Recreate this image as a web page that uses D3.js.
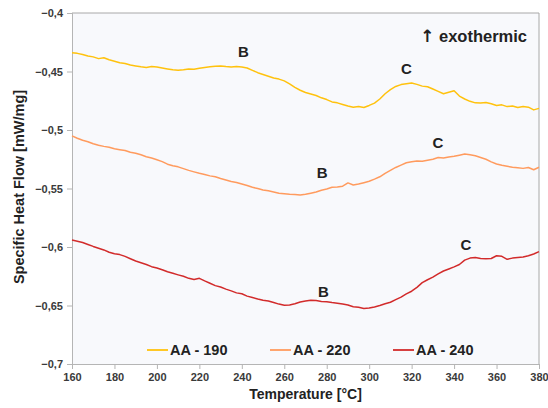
<!DOCTYPE html>
<html>
<head>
<meta charset="utf-8">
<script src="https://cdn.jsdelivr.net/npm/d3@7"></script>
<style>
  html, body { margin: 0; padding: 0; background: #ffffff; }
  svg { display: block; font-family: "Liberation Sans", Arial, sans-serif; }
</style>
</head>
<body>
<svg id="chart" width="548" height="408"></svg>
<script>
// DSC heat-flow curves, sampled every 2.5 °C from 160 to 380 °C
const temperatures = d3.range(160, 380.001, 2.5);

const aa190 = [
  -0.4340, -0.4345, -0.4355, -0.4368, -0.4375, -0.4390, -0.4382, -0.4400, -0.4412, -0.4425,
  -0.4432, -0.4445, -0.4452, -0.4460, -0.4465, -0.4458, -0.4462, -0.4470, -0.4478, -0.4485,
  -0.4490, -0.4486, -0.4478, -0.4480, -0.4472, -0.4465, -0.4460, -0.4455, -0.4452, -0.4458,
  -0.4462, -0.4458, -0.4462, -0.4470, -0.4490, -0.4510, -0.4525, -0.4540, -0.4555, -0.4565,
  -0.4580, -0.4605, -0.4635, -0.4660, -0.4680, -0.4692, -0.4705, -0.4725, -0.4740, -0.4760,
  -0.4768, -0.4782, -0.4795, -0.4805, -0.4800, -0.4808, -0.4790, -0.4770, -0.4735, -0.4690,
  -0.4655, -0.4628, -0.4612, -0.4605, -0.4598, -0.4610, -0.4625, -0.4630, -0.4650, -0.4670,
  -0.4690, -0.4678, -0.4665, -0.4710, -0.4735, -0.4755, -0.4768, -0.4770, -0.4765, -0.4775,
  -0.4790, -0.4785, -0.4800, -0.4795, -0.4808, -0.4800, -0.4805, -0.4828, -0.4815
];

const aa220 = [
  -0.5050, -0.5070, -0.5088, -0.5100, -0.5118, -0.5130, -0.5140, -0.5148, -0.5160, -0.5168,
  -0.5175, -0.5190, -0.5198, -0.5212, -0.5228, -0.5240, -0.5255, -0.5270, -0.5292, -0.5305,
  -0.5315, -0.5330, -0.5345, -0.5358, -0.5370, -0.5380, -0.5392, -0.5400, -0.5415, -0.5428,
  -0.5440, -0.5448, -0.5462, -0.5475, -0.5490, -0.5500, -0.5512, -0.5520, -0.5530, -0.5540,
  -0.5545, -0.5550, -0.5552, -0.5556, -0.5550, -0.5540, -0.5530, -0.5515, -0.5505, -0.5490,
  -0.5488, -0.5480, -0.5452, -0.5470, -0.5462, -0.5450, -0.5438, -0.5420, -0.5400, -0.5370,
  -0.5345, -0.5320, -0.5300, -0.5280, -0.5272, -0.5265, -0.5268, -0.5258, -0.5250, -0.5235,
  -0.5240, -0.5230, -0.5225, -0.5215, -0.5205, -0.5212, -0.5220, -0.5235, -0.5250, -0.5272,
  -0.5290, -0.5302, -0.5310, -0.5318, -0.5322, -0.5328, -0.5320, -0.5340, -0.5318
];

const aa240 = [
  -0.5940, -0.5950, -0.5962, -0.5978, -0.5995, -0.6010, -0.6025, -0.6045, -0.6058, -0.6065,
  -0.6080, -0.6100, -0.6120, -0.6135, -0.6150, -0.6168, -0.6180, -0.6195, -0.6212, -0.6225,
  -0.6238, -0.6250, -0.6268, -0.6278, -0.6268, -0.6290, -0.6310, -0.6330, -0.6342, -0.6360,
  -0.6375, -0.6392, -0.6400, -0.6420, -0.6432, -0.6445, -0.6455, -0.6462, -0.6475, -0.6488,
  -0.6498, -0.6495, -0.6485, -0.6470, -0.6462, -0.6455, -0.6458, -0.6465, -0.6468, -0.6475,
  -0.6480, -0.6488, -0.6495, -0.6510, -0.6515, -0.6525, -0.6522, -0.6512, -0.6500, -0.6485,
  -0.6472, -0.6450, -0.6428, -0.6400, -0.6378, -0.6345, -0.6305, -0.6280, -0.6258, -0.6230,
  -0.6205, -0.6188, -0.6170, -0.6150, -0.6112, -0.6095, -0.6090, -0.6098, -0.6100, -0.6098,
  -0.6075, -0.6080, -0.6105, -0.6095, -0.6090, -0.6085, -0.6075, -0.6060, -0.6040
];

const seriesNames = ["AA - 190", "AA - 220", "AA - 240"];
const seriesValues = [aa190, aa220, aa240];
const seriesColors = ["#FFC20E", "#FF9B5E", "#D22B2B"];

const xTicks = [160, 180, 200, 220, 240, 260, 280, 300, 320, 340, 360, 380];
const yTicks = [-0.4, -0.45, -0.5, -0.55, -0.6, -0.65, -0.7];

// Peak markers: label text, temperature, heat-flow level of the label baseline
const peakLabels = ["B", "C", "B", "C", "B", "C"];
const peakTemps  = [240.8, 317.6, 277.8, 332.4, 278.5, 345.6];
const peakLevels = [-0.4376, -0.4521, -0.5410, -0.5154, -0.6427, -0.6026];

const svg = d3.select("#chart");
const W = 548, H = 408;
const margin = { top: 13, right: 9, bottom: 44, left: 72 };
const iw = W - margin.left - margin.right;
const ih = H - margin.top - margin.bottom;

const x = d3.scaleLinear().domain([160, 380]).range([0, iw]);
const y = d3.scaleLinear().domain([-0.7, -0.4]).range([ih, 0]);

const g = svg.append("g").attr("transform", `translate(${margin.left},${margin.top})`);

// plot background
g.append("rect").attr("width", iw).attr("height", ih).attr("fill", "#f8f9fc");

const fmt = d => d3.format("")(+d.toFixed(2)).replace(".", ",");

const yAxis = g.append("g")
  .call(d3.axisLeft(y).tickValues(yTicks).tickSize(5).tickPadding(4).tickFormat(fmt));
const xAxis = g.append("g").attr("transform", `translate(0,${ih})`)
  .call(d3.axisBottom(x).tickValues(xTicks).tickSize(5).tickPadding(4));

[yAxis, xAxis].forEach(a => {
  a.selectAll("path, line").attr("stroke", "#b5b5b5");
  a.selectAll("text").attr("fill", "#3a3a3a").attr("font-size", 11).attr("font-weight", "bold");
});

// top and right frame
g.append("line").attr("x1", 0).attr("x2", iw).attr("y1", 0).attr("y2", 0).attr("stroke", "#a8a8a8");
g.append("line").attr("x1", iw).attr("x2", iw).attr("y1", 0).attr("y2", ih).attr("stroke", "#a8a8a8");

// curves
const line = d3.line()
  .x((d, i) => x(temperatures[i]))
  .y(d => y(d));

seriesValues.forEach((vals, k) => {
  g.append("path")
    .datum(vals)
    .attr("fill", "none")
    .attr("stroke", seriesColors[k])
    .attr("stroke-width", 1.5)
    .attr("stroke-linejoin", "round")
    .attr("d", line);
});

// peak labels
peakLabels.forEach((t, i) => {
  g.append("text")
    .attr("x", x(peakTemps[i]))
    .attr("y", y(peakLevels[i]))
    .attr("text-anchor", "middle")
    .attr("font-size", 15)
    .attr("font-weight", "bold")
    .attr("fill", "#222")
    .text(t);
});

// exothermic direction note
const exo = g.append("text")
  .attr("x", iw - 12)
  .attr("y", 29)
  .attr("text-anchor", "end")
  .attr("font-size", 16.5)
  .attr("font-weight", "bold")
  .attr("fill", "#222");
exo.append("tspan").attr("font-family", "DejaVu Sans").attr("font-size", 17).text("↑");
exo.append("tspan").text(" exothermic");

// legend
const legend = g.append("g").attr("transform", `translate(75,${ih - 14})`);
seriesNames.forEach((name, k) => {
  const item = legend.append("g").attr("transform", `translate(${k * 123},0)`);
  item.append("line").attr("x1", 0).attr("x2", 21).attr("y1", 0).attr("y2", 0)
    .attr("stroke", seriesColors[k]).attr("stroke-width", 1.8);
  item.append("text").attr("x", 23).attr("y", 5)
    .attr("font-size", 14.5).attr("font-weight", "bold").attr("fill", "#222")
    .text(name);
});

// axis titles
svg.append("text")
  .attr("x", margin.left + iw / 2)
  .attr("y", 399)
  .attr("text-anchor", "middle")
  .attr("font-size", 14)
  .attr("font-weight", "bold")
  .attr("fill", "#222")
  .text("Temperature [°C]");

svg.append("text")
  .attr("transform", `translate(24,${margin.top + 174}) rotate(-90)`)
  .attr("text-anchor", "middle")
  .attr("font-size", 14.5)
  .attr("font-weight", "bold")
  .attr("fill", "#222")
  .text("Specific Heat Flow [mW/mg]");
</script>
</body>
</html>
